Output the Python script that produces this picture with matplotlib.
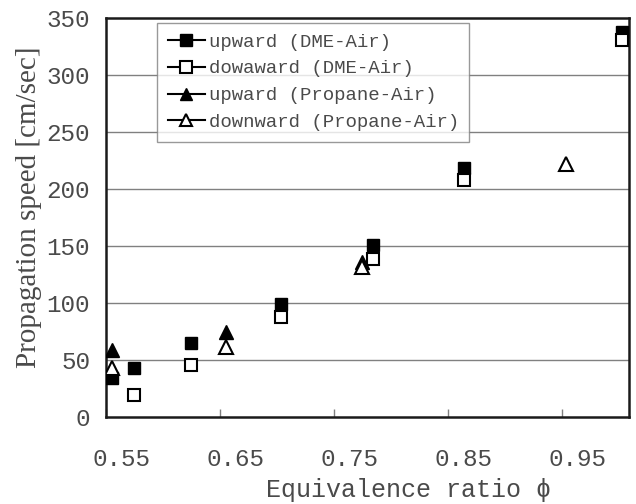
import matplotlib
matplotlib.use("Agg")
import matplotlib.pyplot as plt
from matplotlib.lines import Line2D
import numpy as np

# ---- data ----
dme_up_x = [0.555, 0.575, 0.625, 0.704, 0.784, 0.864, 1.003]
dme_up_y = [34, 43, 65, 99, 151, 218, 338]
dme_down_x = [0.575, 0.625, 0.704, 0.784, 0.864, 1.003]
dme_down_y = [19, 46, 88, 139, 208, 331]
prop_up_x = [0.555, 0.655, 0.775]
prop_up_y = [59, 75, 136]
prop_down_x = [0.555, 0.655, 0.775, 0.954]
prop_down_y = [43, 61, 132, 222]

series_labels = ["upward (DME-Air)", "dowaward (DME-Air)",
                 "upward (Propane-Air)", "downward (Propane-Air)"]
x_ticks = [0.55, 0.65, 0.75, 0.85, 0.95]
x_tick_labels = ["0.55", "0.65", "0.75", "0.85", "0.95"]
y_ticks = [0, 50, 100, 150, 200, 250, 300, 350]

mono = ["Liberation Mono", "DejaVu Sans Mono"]
txt_col = "#4a4a4a"

fig = plt.figure(figsize=(6.36, 5.04), dpi=100)
ax = fig.add_axes([106/636, 1 - 417/504, (629-106)/636, (417-18)/504])

ax.set_xlim(0.55, 1.009)
ax.set_ylim(0, 350)

# horizontal grid
for yv in y_ticks[1:-1]:
    ax.axhline(yv, color="#808080", lw=1.0, zorder=1)

ms = 8.5
ax.plot(dme_up_x, dme_up_y, ls="none", marker="s", ms=ms, mfc="black", mec="black", zorder=3)
ax.plot(dme_down_x, dme_down_y, ls="none", marker="s", ms=ms, mfc="white", mec="black", mew=1.5, zorder=3)
ax.plot(prop_up_x, prop_up_y, ls="none", marker="^", ms=ms+1, mfc="black", mec="black", zorder=3)
ax.plot(prop_down_x, prop_down_y, ls="none", marker="^", ms=ms+1, mfc="white", mec="black", mew=1.5, zorder=3)

# axes frame
for s in ax.spines.values():
    s.set_color("#1a1a1a")
    s.set_linewidth(1.8)

# y ticks
ax.set_yticks(y_ticks)
ax.set_yticklabels([str(v) for v in y_ticks], family=mono, fontsize=17.5, color=txt_col)
ax.tick_params(axis="y", length=0, pad=11.5)

# x ticks: marks at major positions, labels shifted slightly right
ax.set_xticks(x_ticks)
ax.set_xticklabels([])
ax.tick_params(axis="x", which="major", direction="in", length=6, width=1, color="#808080")
ax.set_xticks([v + 0.014 for v in x_ticks], minor=True)
ax.set_xticklabels(x_tick_labels, minor=True, family=mono, fontsize=17.5, color=txt_col)
ax.tick_params(axis="x", which="minor", length=0, pad=22)

ax.set_xlabel("Equivalence ratio \u03d5", family=mono, fontsize=18, color=txt_col)
ax.xaxis.set_label_coords((409-106)/523, (417-478)/399)
ax.set_ylabel("Propagation speed [cm/sec]", family=["Liberation Serif", "DejaVu Serif"],
              fontsize=21, color=txt_col)
ax.yaxis.set_label_coords((42-106)/523, (417-207)/399)

handles = [
    Line2D([], [], color="black", lw=1.5, marker="s", ms=8, mfc="black", mec="black"),
    Line2D([], [], color="black", lw=1.5, marker="s", ms=8, mfc="white", mec="black", mew=1.5),
    Line2D([], [], color="black", lw=1.5, marker="^", ms=9, mfc="black", mec="black"),
    Line2D([], [], color="black", lw=1.5, marker="^", ms=9, mfc="white", mec="black", mew=1.5),
]
leg = ax.legend(handles, series_labels, loc="upper left", bbox_to_anchor=(0.098, 0.988),
                borderaxespad=0, frameon=True, fancybox=False, handlelength=1.95,
                handletextpad=0.2, labelspacing=0.5, borderpad=0.55,
                prop={"family": mono, "size": 13.7})
leg.get_frame().set_edgecolor("#808080")
leg.get_frame().set_linewidth(1.0)
for t in leg.get_texts():
    t.set_color(txt_col)
leg.set_zorder(5)

fig.savefig("out.png", dpi=100)
